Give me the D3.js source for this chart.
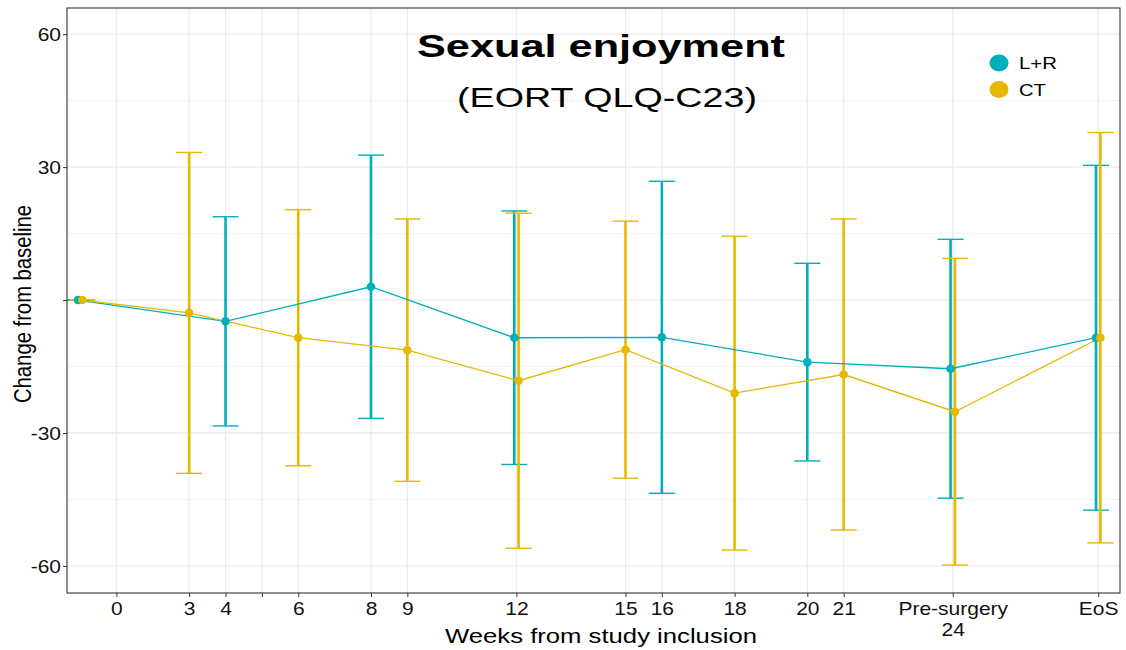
<!DOCTYPE html>
<html>
<head>
<meta charset="utf-8">
<script src="https://cdn.jsdelivr.net/npm/d3@7/dist/d3.min.js"></script>
<style>
  html, body { margin: 0; padding: 0; background: #fff; }
  svg { display: block; font-family: 'Liberation Sans', Arial, sans-serif; }
</style>
</head>
<body>
<div id="chart"></div>
<script>
// values (mean change +/- SD)
const groups = ['L+R', 'CT'];
const colors = ['#00AFBB', '#E7B800'];

const weeksLR = [0, 4, 8, 12, 16, 20, 24, 28];
const meanLR = [0, -4.8, 3.0, -8.5, -8.4, -14.0, -15.5, -8.5];
const sdLR = [0, 23.6, 29.7, 28.6, 35.2, 22.3, 29.2, 38.9];

const weeksCT = [0, 3, 6, 9, 12, 15, 18, 21, 24, 28];
const meanCT = [0, -2.9, -8.5, -11.3, -18.2, -11.2, -21.0, -16.8, -25.2, -8.5];
const sdCT = [0, 36.2, 28.9, 29.6, 37.8, 29.0, 35.4, 35.1, 34.6, 46.3];

const xTickWeeks = [1, 3, 4, 5, 6, 8, 9, 12, 15, 16, 18, 20, 21, 24, 28];
const xTickLabels = ['0', '3', '4', '', '6', '8', '9', '12', '15', '16', '18', '20', '21', 'Pre-surgery\n24', 'EoS'];
const yTicks = [-60, -30, 0, 30, 60];
const yTickLabels = ['-60', '-30', '', '30', '60'];
const yMinor = [-45, -15, 15, 45];

const width = 1126, height = 650;
const margin = { top: 8, right: 6, bottom: 57, left: 67 };
const dodge = 0.06;
const stretch = 'scale(1.2,1)'; // the source picture is a bit wide

const svg = d3.select('#chart').append('svg')
  .attr('width', width)
  .attr('height', height);

const x = d3.scaleLinear().domain([-0.36, 28.6]).range([margin.left, width - margin.right]);
const y = d3.scaleLinear().domain([-66.1, 65.9]).range([height - margin.bottom, margin.top]);

// shared weeks get dodged left/right
const shared = new Set(weeksLR.filter(w => weeksCT.includes(w)));
const series = [
  { name: groups[0], color: colors[0], pts: weeksLR.map((w, i) => ({ w: shared.has(w) ? w - dodge : w, m: meanLR[i], sd: sdLR[i] })) },
  { name: groups[1], color: colors[1], pts: weeksCT.map((w, i) => ({ w: shared.has(w) ? w + dodge : w, m: meanCT[i], sd: sdCT[i] })) }
];

// grid
const grid = svg.append('g');
grid.selectAll('line.minor')
  .data(yMinor)
  .join('line')
    .attr('x1', x.range()[0]).attr('x2', x.range()[1])
    .attr('y1', d => y(d)).attr('y2', d => y(d))
    .attr('stroke', '#f3f3f3').attr('stroke-width', 1);
grid.selectAll('line.hmaj')
  .data(yTicks)
  .join('line')
    .attr('class', 'hmaj')
    .attr('x1', x.range()[0]).attr('x2', x.range()[1])
    .attr('y1', d => y(d)).attr('y2', d => y(d))
    .attr('stroke', '#ebebeb').attr('stroke-width', 1.3);
grid.selectAll('line.vmaj')
  .data(xTickWeeks)
  .join('line')
    .attr('class', 'vmaj')
    .attr('x1', d => x(d)).attr('x2', d => x(d))
    .attr('y1', y.range()[0]).attr('y2', y.range()[1])
    .attr('stroke', '#ebebeb').attr('stroke-width', 1.3);

svg.append('defs').append('clipPath').attr('id', 'panel')
  .append('rect')
    .attr('x', margin.left).attr('y', margin.top)
    .attr('width', width - margin.left - margin.right)
    .attr('height', height - margin.top - margin.bottom);

// title inside the panel
svg.append('text')
  .attr('x', 601).attr('y', 57)
  .attr('text-anchor', 'middle')
  .attr('font-size', 31).attr('font-weight', 'bold')
  .attr('textLength', 368).attr('lengthAdjust', 'spacingAndGlyphs')
  .text('Sexual enjoyment');
svg.append('text')
  .attr('x', 607).attr('y', 107)
  .attr('text-anchor', 'middle')
  .attr('font-size', 28)
  .attr('textLength', 300).attr('lengthAdjust', 'spacingAndGlyphs')
  .text('(EORT QLQ-C23)');

const plot = svg.append('g').attr('clip-path', 'url(#panel)');
const capHalf = 13;

// error bars
series.forEach(s => {
  const g = plot.append('g').attr('stroke', s.color);
  g.selectAll('line.bar')
    .data(s.pts)
    .join('line')
      .attr('class', 'bar')
      .attr('x1', d => x(d.w)).attr('x2', d => x(d.w))
      .attr('y1', d => y(d.m + d.sd)).attr('y2', d => y(d.m - d.sd))
      .attr('stroke-width', 2.6);
  g.selectAll('line.top')
    .data(s.pts)
    .join('line')
      .attr('class', 'top')
      .attr('x1', d => x(d.w) - capHalf).attr('x2', d => x(d.w) + capHalf)
      .attr('y1', d => y(d.m + d.sd)).attr('y2', d => y(d.m + d.sd))
      .attr('stroke-width', 1.4);
  g.selectAll('line.bot')
    .data(s.pts)
    .join('line')
      .attr('class', 'bot')
      .attr('x1', d => x(d.w) - capHalf).attr('x2', d => x(d.w) + capHalf)
      .attr('y1', d => y(d.m - d.sd)).attr('y2', d => y(d.m - d.sd))
      .attr('stroke-width', 1.4);
});

// lines
const line = d3.line().x(d => x(d.w)).y(d => y(d.m));
series.forEach(s => {
  plot.append('path')
    .datum(s.pts)
    .attr('d', line)
    .attr('fill', 'none')
    .attr('stroke', s.color)
    .attr('stroke-width', 1.3);
});

// points
series.forEach(s => {
  plot.append('g').selectAll('circle')
    .data(s.pts)
    .join('circle')
      .attr('cx', d => x(d.w)).attr('cy', d => y(d.m))
      .attr('r', 4.3)
      .attr('fill', s.color);
});

// panel border
svg.append('rect')
  .attr('x', margin.left).attr('y', margin.top)
  .attr('width', width - margin.left - margin.right)
  .attr('height', height - margin.top - margin.bottom)
  .attr('fill', 'none').attr('stroke', '#333').attr('stroke-width', 1.1);

// axes
const xAxis = svg.append('g')
  .attr('transform', `translate(0,${height - margin.bottom})`)
  .call(d3.axisBottom(x).tickValues(xTickWeeks).tickFormat('').tickSize(4).tickSizeOuter(0));
xAxis.select('.domain').remove();
xAxis.selectAll('.tick line').attr('stroke', '#333');
xAxis.selectAll('.tick').each(function(d, i) {
  const lines = xTickLabels[i].split('\n');
  const t = d3.select(this).append('text')
    .attr('fill', '#111')
    .attr('font-size', 17.5)
    .attr('text-anchor', 'middle')
    .attr('transform', stretch)
    .attr('y', 22);
  lines.forEach((l, k) => {
    t.append('tspan').attr('x', 0).attr('dy', k === 0 ? 0 : 21).text(l);
  });
});

const yAxis = svg.append('g')
  .attr('transform', `translate(${margin.left},0)`)
  .call(d3.axisLeft(y).tickValues(yTicks).tickFormat((d, i) => yTickLabels[i]).tickSize(4).tickSizeOuter(0));
yAxis.select('.domain').remove();
yAxis.selectAll('.tick line').attr('stroke', '#333');
yAxis.selectAll('.tick text')
  .attr('fill', '#111')
  .attr('font-size', 17.5)
  .attr('font-family', 'Liberation Sans, Arial, sans-serif')
  .attr('transform', stretch)
  .attr('x', -5)
  .attr('dy', '0.36em');

// axis titles
svg.append('text')
  .attr('x', 601).attr('y', 643)
  .attr('text-anchor', 'middle')
  .attr('font-size', 21)
  .attr('textLength', 312).attr('lengthAdjust', 'spacingAndGlyphs')
  .text('Weeks from study inclusion');
svg.append('text')
  .attr('transform', 'translate(31,304) rotate(-90)')
  .attr('text-anchor', 'middle')
  .attr('font-size', 23)
  .attr('textLength', 198).attr('lengthAdjust', 'spacingAndGlyphs')
  .text('Change from baseline');

// legend
const legend = svg.append('g').attr('transform', 'translate(999,63)');
const items = legend.selectAll('g')
  .data(series)
  .join('g')
    .attr('transform', (d, i) => `translate(0,${i * 26.5})`);
items.append('ellipse')
  .attr('rx', 9.5).attr('ry', 8.5)
  .attr('fill', d => d.color);
items.append('text')
  .attr('x', 20).attr('y', 6)
  .attr('font-size', 17)
  .attr('textLength', d => d.name === 'CT' ? 27 : 38)
  .attr('lengthAdjust', 'spacingAndGlyphs')
  .text(d => d.name);
</script>
</body>
</html>
